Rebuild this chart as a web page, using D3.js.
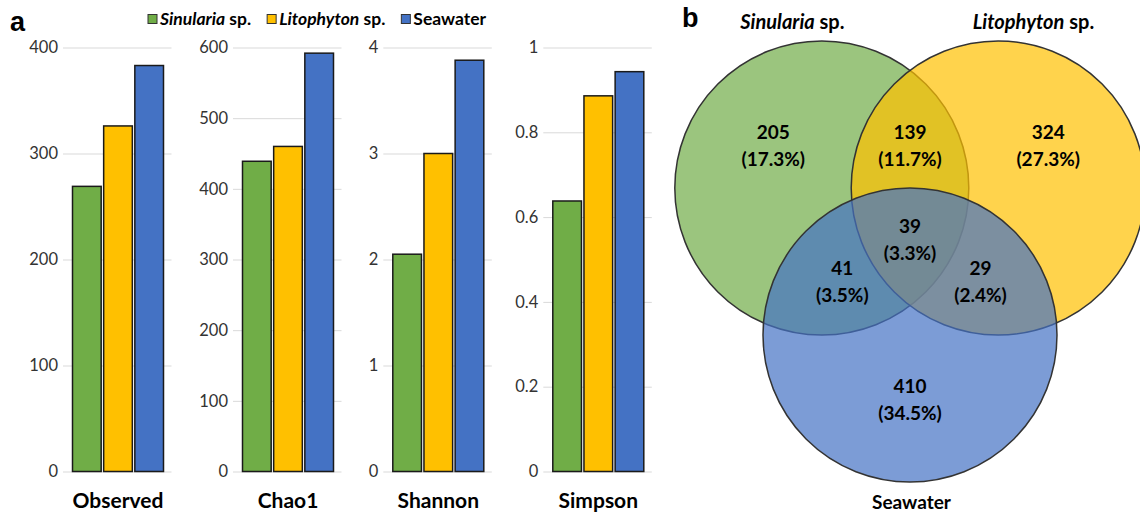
<!DOCTYPE html>
<html>
<head>
<meta charset="utf-8">
<script src="https://cdn.jsdelivr.net/npm/d3@7"></script>
<style>
  body { margin: 0; background: #fff; }
  svg { display: block; font-family: Lato, "Open Sans", sans-serif; }
</style>
</head>
<body>
<div id="chart"></div>
<script>
const width = 1140;
const height = 515;

// groups (shared by bar colours and venn circles)
const groups = ["Sinularia", "Litophyton", "Seawater"];
const group_labels = [["Sinularia", " sp."], ["Litophyton", " sp."], ["", "Seawater"]];
const colors = ["#70AD47", "#FFC000", "#4472C4"];

// alpha diversity indices
const metrics = ["Observed", "Chao1", "Shannon", "Simpson"];
const metric_max = [400, 600, 4, 1];
const metric_ticks = [
  [0, 100, 200, 300, 400],
  [0, 100, 200, 300, 400, 500, 600],
  [0, 1, 2, 3, 4],
  [0, 0.2, 0.4, 0.6, 0.8, 1]
];
const observed = [269, 326, 383];
const chao1 = [439, 460, 592];
const shannon = [2.05, 3.0, 3.88];
const simpson = [0.638, 0.886, 0.943];
const metric_values = [observed, chao1, shannon, simpson];

// venn regions
const venn_counts = [205, 139, 324, 39, 41, 29, 410];
const venn_pct = ["17.3%", "11.7%", "27.3%", "3.3%", "3.5%", "2.4%", "34.5%"];

// layout
const panel_left = [63, 233, 383.3, 543.3];
const panel_width = 108.5;
const plot_top = 47.5;
const plot_bottom = 471.5;

const svg = d3.select("#chart").append("svg")
  .attr("width", width)
  .attr("height", height);

svg.append("text")
  .attr("x", 10).attr("y", 31)
  .style("font-family", "Liberation Sans, Arial, sans-serif")
  .style("font-weight", "bold").style("font-size", "27px")
  .text("a");

// ---- bar panels
const y = metric_max.map(m => d3.scaleLinear().domain([0, m]).range([plot_bottom, plot_top]));

for (let i = 0; i < metrics.length; i++) {
  const x0 = panel_left[i];
  const g = svg.append("g");
  const x = d3.scaleBand()
    .domain(groups)
    .range([x0 + 9.5, x0 + 100.5])
    .paddingInner(0.08);

  const axis = d3.axisLeft(y[i])
    .tickValues(metric_ticks[i])
    .tickSize(-panel_width)
    .tickPadding(5)
    .tickFormat(d3.format("~g"));

  const ax = g.append("g")
    .attr("transform", `translate(${x0},0)`)
    .call(axis);
  ax.select(".domain").remove();
  ax.selectAll(".tick line").attr("stroke", "#d9d9d9").attr("stroke-width", 1);
  ax.selectAll(".tick text")
    .attr("fill", "#333")
    .style("font-size", "16.5px")
    .style("font-family", "Lato, sans-serif");

  g.selectAll("rect")
    .data(metric_values[i])
    .join("rect")
    .attr("x", (d, j) => x(groups[j]))
    .attr("width", x.bandwidth())
    .attr("y", d => y[i](d))
    .attr("height", d => y[i](0) - y[i](d))
    .attr("fill", (d, j) => colors[j])
    .attr("stroke", "#1a1a1a")
    .attr("stroke-width", 1.5);

  g.append("text")
    .attr("x", x0 + 55)
    .attr("y", 508)
    .attr("text-anchor", "middle")
    .style("font-weight", "bold")
    .style("font-size", "21px")
    .attr("fill", "#000")
    .text(metrics[i]);
}

// ---- legend
const legend = svg.append("g").attr("transform", "translate(148,0)");
let lx = 0;
group_labels.forEach((lab, j) => {
  legend.append("rect")
    .attr("x", lx).attr("y", 14.5)
    .attr("width", 9).attr("height", 9)
    .attr("fill", colors[j])
    .attr("stroke", "#333").attr("stroke-width", 1);
  const t = legend.append("text")
    .attr("x", lx + 12).attr("y", 25)
    .style("font-weight", "bold").style("font-size", "17.5px")
    .attr("fill", "#000");
  if (lab[0]) t.append("tspan").style("font-style", "italic").text(lab[0]);
  t.append("tspan").text(lab[1]);
  lx += 12 + t.node().getComputedTextLength() + 16;
});

// ---- venn diagram
const vr = 147;
const vx = d3.scaleLinear().domain([0, 1]).range([910, 910 + vr]);
const vy = d3.scaleLinear().domain([0, 1]).range([188, 188 + vr]);
const circle_pos = [[-0.6, 0], [0.6, 0], [0, 1]];
const region_pos = [[-0.93, -0.29], [0, -0.29], [0.94, -0.29], [0, 0.35], [-0.46, 0.64], [0.48, 0.64], [0, 1.44]];

svg.append("text")
  .attr("x", 682).attr("y", 27)
  .style("font-family", "Liberation Sans, Arial, sans-serif")
  .style("font-weight", "bold").style("font-size", "27px")
  .text("b");

const venn = svg.append("g");
venn.selectAll("circle")
  .data(circle_pos)
  .join("circle")
  .attr("cx", d => vx(d[0]))
  .attr("cy", d => vy(d[1]))
  .attr("r", vr)
  .attr("fill", (d, j) => colors[j])
  .attr("fill-opacity", 0.7)
  .attr("stroke", "#333")
  .attr("stroke-width", 1.5);

const rl = venn.selectAll("text.region")
  .data(venn_counts)
  .join("text")
  .attr("class", "region")
  .attr("text-anchor", "middle")
  .style("font-weight", "bold").style("font-size", "19px")
  .attr("fill", "#000");
rl.append("tspan")
  .attr("x", (d, j) => vx(region_pos[j][0]))
  .attr("y", (d, j) => vy(region_pos[j][1]) - 13.5)
  .attr("dy", "0.35em")
  .text(d => d);
rl.append("tspan")
  .attr("x", (d, j) => vx(region_pos[j][0]))
  .attr("y", (d, j) => vy(region_pos[j][1]) + 13.5)
  .attr("dy", "0.35em")
  .text((d, j) => `(${venn_pct[j]})`);

// set names
const name_pos = [[-0.8, -1.13], [0.84, -1.13], [0.01, 2.14]];
group_labels.forEach((lab, j) => {
  const t = venn.append("text")
    .attr("x", vx(name_pos[j][0]))
    .attr("y", vy(name_pos[j][1]))
    .attr("dy", "0.35em")
    .attr("text-anchor", "middle")
    .style("font-weight", "bold")
    .style("font-size", j < 2 ? "20px" : "19px")
    .attr("fill", "#000");
  if (lab[0]) t.append("tspan").style("font-style", "italic").text(lab[0]);
  t.append("tspan").text(lab[1]);
});
</script>
</body>
</html>
